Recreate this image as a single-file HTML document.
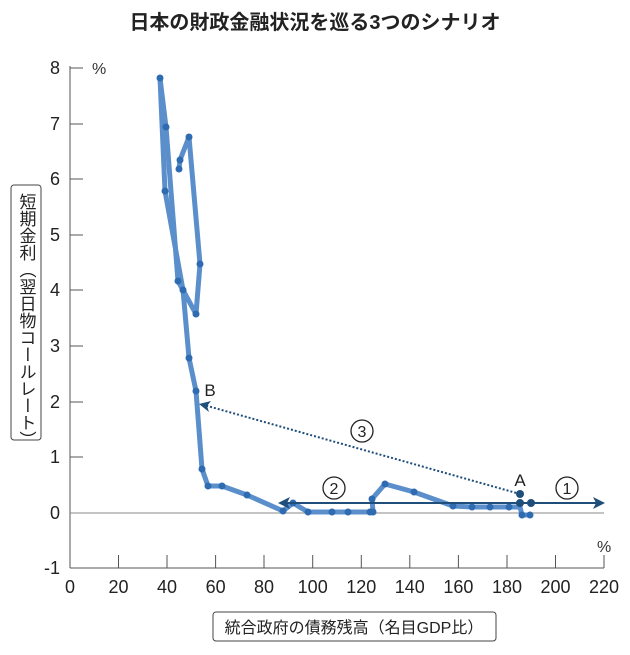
<!DOCTYPE html>
<html><head><meta charset="utf-8"><style>
body{margin:0;background:#fff;}
svg{display:block;font-family:"Liberation Sans","Noto Sans CJK JP",sans-serif;}
</style></head><body>
<svg width="630" height="655" viewBox="0 0 630 655" xmlns="http://www.w3.org/2000/svg">
<text x="315" y="29" text-anchor="middle" font-size="20" font-weight="bold" fill="#222">日本の財政金融状況を巡る3つのシナリオ</text>
<line x1="70" y1="66" x2="70" y2="568" stroke="#555" stroke-width="1"/>
<line x1="70" y1="568" x2="604" y2="568" stroke="#555" stroke-width="1"/>
<line x1="70" y1="513" x2="604" y2="513" stroke="#888" stroke-width="1"/>
<g stroke="#555" stroke-width="1">
<line x1="70" y1="68" x2="83" y2="68"/><line x1="70" y1="124" x2="83" y2="124"/><line x1="70" y1="179" x2="83" y2="179"/><line x1="70" y1="235" x2="83" y2="235"/><line x1="70" y1="290" x2="83" y2="290"/><line x1="70" y1="346" x2="83" y2="346"/><line x1="70" y1="402" x2="83" y2="402"/><line x1="70" y1="457" x2="83" y2="457"/>
<line x1="118.5" y1="555" x2="118.5" y2="568"/><line x1="167" y1="555" x2="167" y2="568"/><line x1="215.6" y1="555" x2="215.6" y2="568"/><line x1="264" y1="555" x2="264" y2="568"/><line x1="312.7" y1="555" x2="312.7" y2="568"/><line x1="361.3" y1="555" x2="361.3" y2="568"/><line x1="409.8" y1="555" x2="409.8" y2="568"/><line x1="458.4" y1="555" x2="458.4" y2="568"/><line x1="507" y1="555" x2="507" y2="568"/><line x1="555.5" y1="555" x2="555.5" y2="568"/><line x1="604" y1="555" x2="604" y2="568"/>
</g>
<g font-size="18" fill="#222" text-anchor="end">
<text x="60" y="74">8</text><text x="60" y="130">7</text><text x="60" y="185">6</text><text x="60" y="241">5</text><text x="60" y="296">4</text><text x="60" y="352">3</text><text x="60" y="408">2</text><text x="60" y="463">1</text><text x="60" y="519">0</text><text x="60" y="574">-1</text>
</g>
<text x="92" y="74" font-size="16" fill="#333">%</text>
<text x="597" y="552" font-size="16" fill="#333">%</text>
<g font-size="18" fill="#222" text-anchor="middle">
<text x="70" y="593">0</text><text x="118.5" y="593">20</text><text x="167" y="593">40</text><text x="215.6" y="593">60</text><text x="264" y="593">80</text><text x="312.7" y="593">100</text><text x="361.3" y="593">120</text><text x="409.8" y="593">140</text><text x="458.4" y="593">160</text><text x="507" y="593">180</text><text x="555.5" y="593">200</text><text x="604" y="593">220</text>
</g>
<rect x="11" y="185" width="30" height="255" rx="3" fill="#fff" stroke="#444"/>
<text x="26" y="193" font-size="17" fill="#222" style="writing-mode:vertical-rl;glyph-orientation-vertical:0" text-anchor="start">短期金利（翌日物コールレート）</text>
<rect x="213" y="612" width="283" height="29" rx="3" fill="#fff" stroke="#444"/>
<text x="354" y="633" font-size="16" fill="#222" text-anchor="middle">統合政府の債務残高（名目GDP比）</text>
<g fill="none" stroke="#5b8fcb" stroke-width="5" stroke-linejoin="round" stroke-linecap="round">
<polyline points="160,78 166,127 178,281 196,314 200,264 189,137 180,160 179,169"/>
<polyline points="160,78 165,191 183,290 189,358 196,391 202,469 208,486 222,486 247,495 283,511 293,503 308,512 332,512 348,512 370,512 373,512 372,499 385,484 414,492 453,506 472,507 490,507 509,507 520,507 522,515 530,515"/>
</g>
<g fill="#2e6bb0">
<circle cx="160" cy="78" r="3.5"/><circle cx="166" cy="127" r="3.5"/><circle cx="189" cy="137" r="3.5"/><circle cx="180" cy="160" r="3.5"/><circle cx="179" cy="169" r="3.5"/><circle cx="165" cy="191" r="3.5"/><circle cx="200" cy="264" r="3.5"/><circle cx="178" cy="281" r="3.5"/><circle cx="183" cy="290" r="3.5"/><circle cx="196" cy="314" r="3.5"/><circle cx="189" cy="358" r="3.5"/><circle cx="196" cy="391" r="3.5"/><circle cx="202" cy="469" r="3.5"/><circle cx="208" cy="486" r="3.5"/><circle cx="222" cy="486" r="3.5"/><circle cx="247" cy="495" r="3.5"/><circle cx="283" cy="511" r="3.5"/><circle cx="293" cy="503" r="3.5"/><circle cx="308" cy="512" r="3.5"/><circle cx="332" cy="512" r="3.5"/><circle cx="348" cy="512" r="3.5"/><circle cx="370" cy="512" r="3.5"/><circle cx="373" cy="512" r="3.5"/><circle cx="372" cy="499" r="3.5"/><circle cx="385" cy="484" r="3.5"/><circle cx="414" cy="492" r="3.5"/><circle cx="453" cy="506" r="3.5"/><circle cx="472" cy="507" r="3.5"/><circle cx="490" cy="507" r="3.5"/><circle cx="509" cy="507" r="3.5"/><circle cx="522" cy="515" r="3.5"/><circle cx="530" cy="515" r="3.5"/>
</g>
<g stroke="#1f4e7a" stroke-width="2" fill="none">
<line x1="520" y1="503" x2="600" y2="503"/>
<line x1="520" y1="503" x2="282" y2="503"/>
<line x1="520" y1="494" x2="204" y2="405" stroke-dasharray="2,2"/>
</g>
<g fill="#1f4e7a">
<polygon points="605,503 593,497 596,503 593,509"/>
<polygon points="278,503 290,497 287,503 290,509"/>
<polygon points="199,404 211,401 207,406 209,412"/>
<circle cx="520" cy="494" r="4"/><circle cx="520" cy="503" r="4"/><circle cx="531" cy="503" r="4"/>
</g>
<circle cx="567" cy="488" r="11" fill="#fff" stroke="#222" stroke-width="1.3"/><text x="567" y="494" font-size="16" text-anchor="middle" fill="#222">1</text>
<circle cx="334" cy="488" r="11" fill="#fff" stroke="#222" stroke-width="1.3"/><text x="334" y="494" font-size="16" text-anchor="middle" fill="#222">2</text>
<circle cx="362" cy="431" r="11" fill="#fff" stroke="#222" stroke-width="1.3"/><text x="362" y="437" font-size="16" text-anchor="middle" fill="#222">3</text>
<text x="520" y="486" font-size="17" text-anchor="middle" fill="#222">A</text>
<text x="210" y="396" font-size="17" text-anchor="middle" fill="#222">B</text>
</svg>
</body></html>
